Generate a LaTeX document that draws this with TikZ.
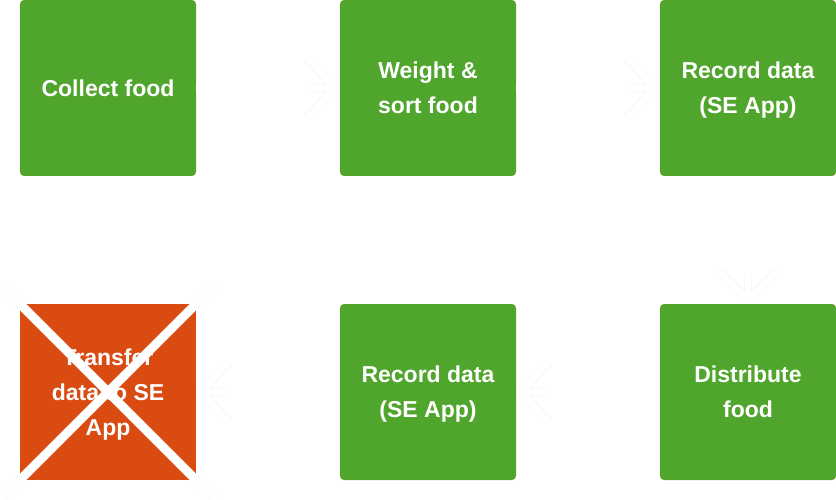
\documentclass[tikz,border=0pt]{standalone}
\usepackage{fontspec}
\setmainfont{Liberation Sans}
\usetikzlibrary{arrows.meta,calc}
\definecolor{boxgreen}{RGB}{80,166,44}
\definecolor{boxorange}{RGB}{217,75,17}
\definecolor{faint}{RGB}{248,248,248}
\begin{document}
\begin{tikzpicture}[x=1pt,y=-1pt,
  stepbox/.style={rectangle, rounded corners=4pt, minimum width=176pt, minimum height=176pt,
    inner sep=0pt, fill=boxgreen, text=white, align=center,
    font=\bfseries\fontsize{23}{35}\selectfont},
  multi/.style={text depth=-2pt},
  crossed/.style={stepbox, fill=boxorange, rounded corners=0pt},
  conn/.style={white, line width=6pt,
    -{Straight Barb[length=28pt,width=58pt]},
    preaction={draw=faint, line width=7.5pt, -{Straight Barb[length=28pt,width=58pt]}, shorten <=#1}},
  conn/.default=114pt,
  xline/.style={white, line width=8pt, preaction={draw=faint, line width=9pt}}]
\useasboundingbox (0,0) rectangle (836,500);
\node[stepbox] (collect) at (108,88) {Collect food};
\node[stepbox, multi] (weigh) at (428,88) {Weight \&\\sort food};
\node[stepbox, multi] (rec1) at (748,88) {Record data\\(SE App)};
\node[crossed, multi] (transfer) at (108,392) {Transfer\\data to SE\\App};
\node[stepbox, multi] (rec2) at (428,392) {Record data\\(SE App)};
\node[stepbox] (dist) at (748,392) {Distribute\\food};
\draw[conn] (collect.east) -- (weigh.west);
\draw[conn] (weigh.east) -- (rec1.west);
\draw[conn=98pt] (rec1.south) -- (dist.north);
\draw[conn] (dist.west) -- (rec2.east);
\draw[conn] (rec2.west) -- (transfer.east);
\coordinate (xa) at ($(transfer.north west)+(-20,-20)$);
\coordinate (xb) at ($(transfer.south east)+(20,20)$);
\coordinate (xc) at ($(transfer.north east)+(20,-20)$);
\coordinate (xd) at ($(transfer.south west)+(-20,20)$);
\draw[xline] (xa) -- (xb);
\draw[xline] (xc) -- (xd);
\end{tikzpicture}
\end{document}
